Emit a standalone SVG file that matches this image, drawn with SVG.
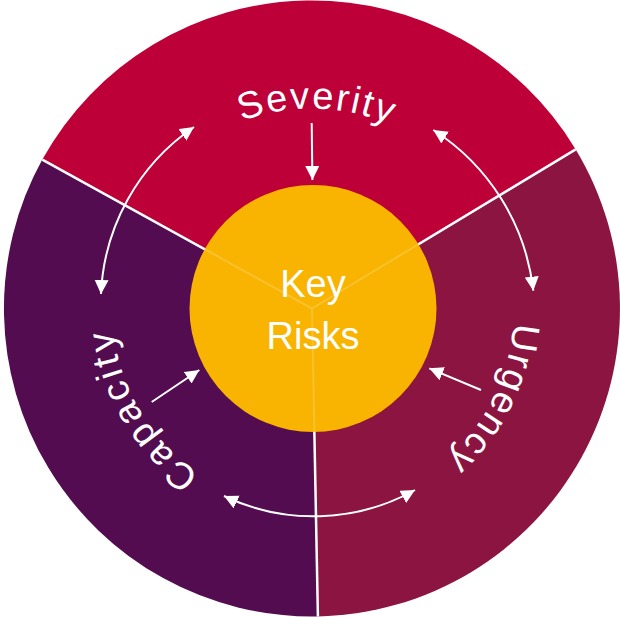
<svg xmlns="http://www.w3.org/2000/svg" xmlns:xlink="http://www.w3.org/1999/xlink" width="620" height="617" viewBox="0 0 620 617">
  <style>
    .seg-label { font-family: "Liberation Sans", Arial, sans-serif; font-size: 38px; fill: #ffffff; }
    .center-label { font-family: "Liberation Sans", Arial, sans-serif; font-size: 38px; fill: #ffffff; text-anchor: middle; }
    .divider { stroke: #ffffff; stroke-width: 2.5; fill: none; }
    .divider-faint { stroke: #ffffff; stroke-opacity: 0.18; stroke-width: 2; fill: none; }
    .conn { stroke: #ffffff; stroke-width: 2; fill: none; marker-end: url(#ah); }
    .conn2 { stroke: #ffffff; stroke-width: 2; fill: none; marker-start: url(#ah); marker-end: url(#ah); }
  </style>
  <defs>
    <marker id="ah" markerUnits="userSpaceOnUse" markerWidth="15" markerHeight="15" refX="14" refY="7" orient="auto-start-reverse">
      <path d="M0,0 L14,7 L0,14 Z" fill="#ffffff"/>
    </marker>
    <path id="textCircle" d="M 512,308.5 A 200 200 0 1 1 112,308.5 A 200 200 0 1 1 512,308.5"/>
    <path id="textCircleU" d="M 514,308.5 A 202 202 0 1 1 110,308.5 A 202 202 0 1 1 514,308.5"/>
  </defs>

  <g id="severity">
    <path d="M312,308.5 L42.3,159.6 A308 308 0 0 1 575.7,149.4 Z" fill="#BD0037"/>
    <text class="seg-label" letter-spacing="2" text-anchor="middle"><textPath xlink:href="#textCircle" href="#textCircle" startOffset="947">Severity</textPath></text>
  </g>
  <g id="urgency">
    <path d="M312,308.5 L575.7,149.4 A308 308 0 0 1 317.9,616.4 Z" fill="#8B1540"/>
    <text class="seg-label" letter-spacing="2.3" text-anchor="middle"><textPath xlink:href="#textCircleU" href="#textCircleU" startOffset="93">Urgency</textPath></text>
  </g>
  <g id="capacity">
    <path d="M312,308.5 L317.9,616.4 A308 308 0 0 1 42.3,159.6 Z" fill="#520C4F"/>
    <text class="seg-label" letter-spacing="3.5" text-anchor="middle"><textPath xlink:href="#textCircle" href="#textCircle" startOffset="521">Capacity</textPath></text>
  </g>

  <g id="dividers">
    <line class="divider" x1="312" y1="308.5" x2="42.3" y2="159.6"/>
    <line class="divider" x1="312" y1="308.5" x2="575.7" y2="149.4"/>
    <line class="divider" x1="312" y1="308.5" x2="317.9" y2="616.4"/>
  </g>

  <g id="key-risks">
    <circle cx="313" cy="308.5" r="123.5" fill="#F8B400"/>
    <line class="divider-faint" x1="312" y1="308.5" x2="203.5" y2="248.5"/>
    <line class="divider-faint" x1="312" y1="308.5" x2="418" y2="244.5"/>
    <line class="divider-faint" x1="312" y1="308.5" x2="314.4" y2="432"/>
    <text class="center-label" x="313" y="297">Key</text>
    <text class="center-label" x="313" y="348.5">Risks</text>
  </g>

  <g id="connectors">
    <line class="conn" x1="311.7" y1="123" x2="312.4" y2="180"/>
    <path class="conn2" d="M194,127 A213 213 0 0 0 101,294"/>
    <path class="conn2" d="M433.3,130 A220 220 0 0 1 533.3,290.7"/>
    <path class="conn2" d="M224,496 A208 208 0 0 0 415,490"/>
    <line class="conn" x1="151.7" y1="402" x2="199.3" y2="370"/>
    <line class="conn" x1="481" y1="390" x2="429.3" y2="368.3"/>
  </g>
</svg>
